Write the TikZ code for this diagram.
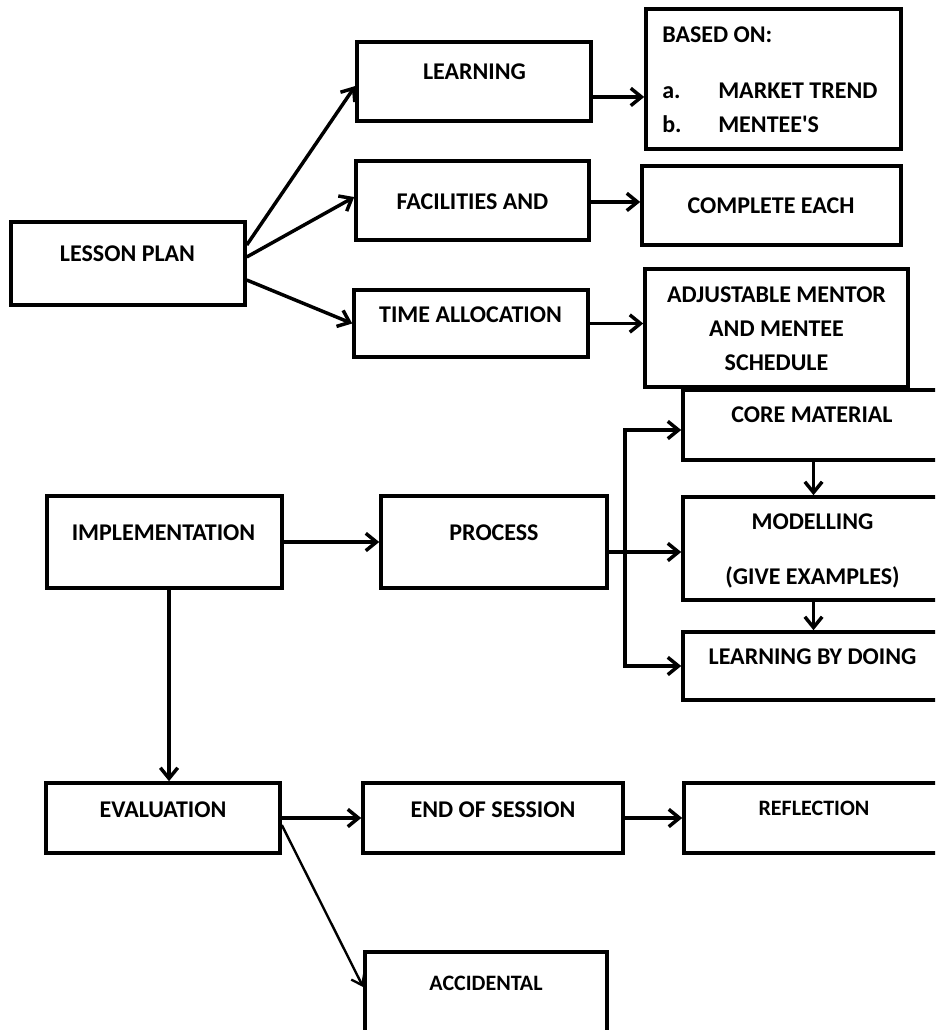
\documentclass[tikz,border=0pt]{standalone}
\usepackage{fontspec}
\setmainfont{Carlito}
\usetikzlibrary{arrows.meta,fit}

\begin{document}
\begin{tikzpicture}[x=0.75pt,y=-0.75pt,
  box/.style={draw,line width=2.7pt,inner sep=0pt,rectangle},
  txt/.style={font=\bfseries\fontsize{18pt}{25.5pt}\selectfont,inner sep=0pt,anchor=base,align=center},
  smalltxt/.style={txt,font=\bfseries\fontsize{16.5pt}{20pt}\selectfont},
  link/.style={line width=2.6pt,line join=miter},
  arr/.style={link,-{Straight Barb[length=8pt,width=13pt]}},
  thinarr/.style={line width=1.8pt,-{Straight Barb[length=7.5pt,width=11pt]}},
]
\useasboundingbox (0,0) rectangle (935,1030);

\begin{scope}
\clip (0,0) rectangle (935,1030);
% lesson plan branch
\node[box,fit={(11,222) (245,305)}] (lp) {};
\node[box,fit={(357,42) (591,121)}] (learn) {};
\node[box,fit={(356,161) (589,240)}] (fac) {};
\node[box,fit={(354,290) (588,357)}] (time) {};
\node[box,fit={(646,9) (901,149)}] (based) {};
\node[box,fit={(642,166) (901,245)}] (comp) {};
\node[box,fit={(645,269) (908,387)}] (adj) {};
% implementation branch
\node[box,fit={(47,496) (282,588)}] (impl) {};
\node[box,fit={(381,496) (607,588)}] (proc) {};
\node[box,fit={(683,390) (944,460)}] (core) {};
\node[box,fit={(683,497) (944,600)}] (mod) {};
\node[box,fit={(683,632) (944,700)}] (lbd) {};
% evaluation branch
\node[box,fit={(46,783) (280,853)}] (eval) {};
\node[box,fit={(363,783) (623,853)}] (end) {};
\node[box,fit={(684,783) (944,853)}] (refl) {};
\node[box,fit={(365,952) (607,1045)}] (acc) {};
\end{scope}

% labels (multi-line labels sit on their last baseline)
\node[txt] (lpT) at (127.5,261.5) {LESSON PLAN};
\node[txt] (learnT) at (474.5,79.5) {LEARNING};
\node[txt] (facT) at (472.5,209.5) {FACILITIES AND};
\node[txt] (timeT) at (470.5,322.5) {TIME ALLOCATION};
\node[txt,align=left,anchor=base west] (basedT) at (662,132.5)
  {BASED ON:\\[16.5pt]\makebox[42pt][l]{a.}MARKET TREND\\\makebox[42pt][l]{b.}MENTEE\textquotesingle S};
\node[txt] (compT) at (771,213.5) {COMPLETE EACH};
\node[txt] (adjT) at (776.5,370.5) {ADJUSTABLE MENTOR\\AND MENTEE\\SCHEDULE};
\node[txt] (implT) at (163.5,540.5) {IMPLEMENTATION};
\node[txt] (procT) at (494,540.5) {PROCESS};
\node[txt] (coreT) at (812,422.5) {CORE MATERIAL};
\node[txt] (modT) at (812.5,584.5) {MODELLING\\[15.75pt](GIVE EXAMPLES)};
\node[txt] (lbdT) at (812.5,664.5) {LEARNING BY DOING};
\node[txt] (evalT) at (163,817.5) {EVALUATION};
\node[txt] (endT) at (493,817.5) {END OF SESSION};
\node[smalltxt] (reflT) at (814,815) {REFLECTION};
\node[smalltxt] (accT) at (486,990) {ACCIDENTAL};

% connectors
\draw[arr] ([yshift=13.9pt]lp.east) -- ([yshift=-3.4pt]learn.west);
\draw[arr] ([yshift=4.9pt]lp.east) -- ([yshift=2.6pt]fac.west);
\draw[arr] ([yshift=-12.4pt]lp.east) -- (time.west);
\draw[arr] ([yshift=-11.6pt]learn.east) -- ([yshift=-11.6pt]learn.east -| based.west);
\draw[arr] ([yshift=-1.1pt]fac.east) -- ([yshift=-1.1pt]fac.east -| comp.west);
\draw[arr] (time.east) -- (time.east -| adj.west);

\draw[arr] (impl.east) -- (proc.west);
\coordinate (split) at (625,552);
\draw[link] ([yshift=-7.5pt]proc.east) -- (split);
\draw[arr] (split) -- (split -| mod.west);
\draw[arr] (split) |- ([yshift=-3.75pt]core.west);
\draw[arr] (split) |- (lbd.west);
\draw[arr] (core.south) -- (mod.north);
\draw[arr] (mod.south) -- (lbd.north);

\draw[arr] ([xshift=3.4pt]impl.south) -- ([xshift=3.4pt]impl.south |- eval.north);
\draw[arr] (eval.east) -- (end.west);
\draw[arr] (end.east) -- (refl.west);
\draw[thinarr] ([yshift=-5.25pt]eval.east) -- ([yshift=8.6pt]acc.west);
\end{tikzpicture}
\end{document}
